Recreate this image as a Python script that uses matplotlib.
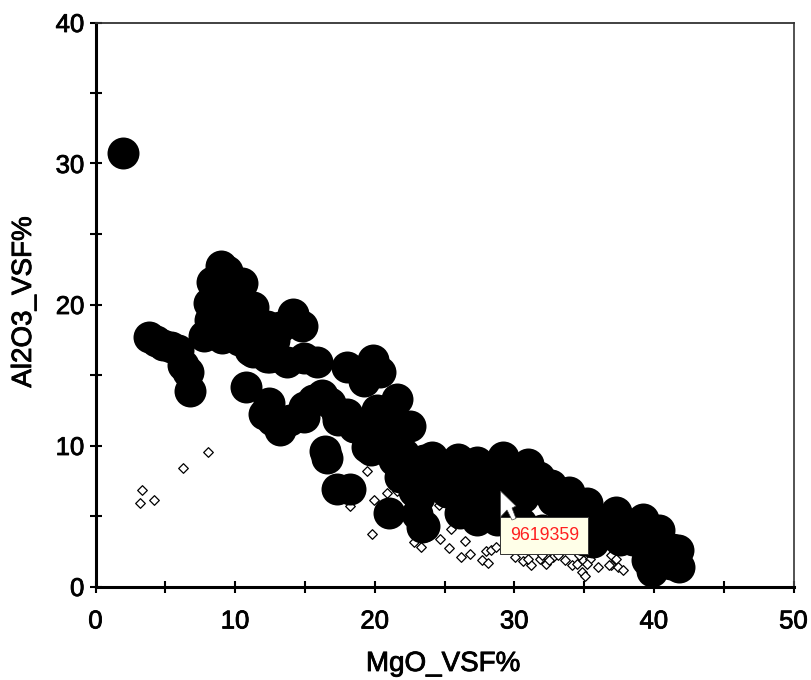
import matplotlib
matplotlib.use("Agg")
import matplotlib.pyplot as plt
import matplotlib.patheffects as pe
from matplotlib.patches import Rectangle, Polygon
from matplotlib.ticker import MultipleLocator

W, H = 811, 680

large_x = [1.97, 3.8, 4.3, 4.87, 5.4, 5.94, 6.3, 6.6, 6.8,
           9.0, 8.35, 10.5, 8.1, 7.75, 9.07, 11.1, 14.15, 14.8, 13.7, 15.9, 18.0, 19.9, 20.4, 21.6, 22.55, 21.7,
           9.9, 11.6, 9.2, 10.4, 12.8, 12.3, 19.2, 20.2, 21.1, 19.7,
           8.7, 10.1, 11.3, 12.3, 13.25, 11.6, 9.9, 8.2, 10.25, 11.3, 12.5, 14.9, 9.66, 9.4, 19.0,
           10.8, 12.4, 12.65, 13.2, 14.9, 16.2, 17.3, 18.5, 19.45, 16.45, 16.6, 17.3, 18.2, 21.05, 23.5,
           12.05, 13.95, 15.6, 14.9, 16.8, 18.0, 19.45, 17.4, 19.7, 20.9, 22.1, 21.1, 20.15, 22.3, 23.5,
           21.35, 24.1, 26.0, 27.3, 29.2, 31.0, 32.6, 33.9, 35.2, 37.3, 39.25, 40.4, 41.75, 41.8, 39.85, 39.5,
           37.6, 35.67, 34.2, 23.4, 26.1, 27.3, 25.2, 22.8, 28.75, 32.3, 33.5, 35.0,
           21.8, 23.2, 24.6, 26.0, 27.5, 29.0, 30.4, 31.8,
           23.2, 26.4, 27.55, 29.0, 30.65, 32.8, 34.2, 35.7, 37.1, 38.8, 40.7, 40.2, 38.5, 39.5, 41.2, 41.3,
           23.0, 29.5, 36.4, 30.5, 32.0]
large_y = [30.75, 17.7, 17.4, 17.1, 17.0, 16.8, 15.7, 15.2, 13.9,
           22.7, 21.6, 21.5, 20.1, 17.8, 17.6, 16.8, 19.3, 18.5, 15.9, 15.9, 15.6, 16.05, 15.2, 13.3, 11.4, 8.95,
           19.8, 18.4, 19.1, 18.0, 17.5, 16.3, 14.6, 12.5, 11.3, 11.1,
           20.3, 20.3, 19.8, 18.5, 18.4, 17.5, 18.65, 18.9, 17.5, 16.65, 16.3, 16.2, 21.5, 22.4, 15.3,
           14.15, 13.0, 11.8, 11.1, 12.0, 13.6, 12.3, 11.3, 9.9, 9.6, 9.1, 6.9, 6.9, 5.2, 4.3,
           12.25, 11.8, 13.2, 12.7, 13.0, 12.25, 11.3, 11.8, 9.65, 9.65, 9.4, 12.0, 10.6, 8.0, 8.95,
           8.95, 9.2, 9.07, 8.8, 9.2, 8.7, 7.2, 6.7, 5.9, 5.3, 4.8, 4.0, 2.6, 1.4, 1.1, 2.8,
           3.3, 3.15, 4.45, 4.2, 5.2, 4.7, 6.7, 6.8, 4.7, 6.8, 5.2, 3.27,
           7.77, 7.77, 7.77, 7.77, 7.77, 7.77, 7.77, 7.77,
           6.35, 6.45, 6.35, 6.35, 6.35, 6.1, 5.15, 4.7, 4.2, 4.0, 2.56, 3.7, 3.3, 1.85, 1.6, 2.68,
           5.16, 4.9, 3.74, 4.5, 4.0]

small_x = [3.34, 3.22, 4.17, 6.25, 8.04, 19.45, 19.92, 19.8, 18.25, 20.9, 21.6, 24.6, 25.5, 22.8, 23.3, 24.65,
           25.3, 26.5, 26.2, 26.85, 27.7, 28.15, 28.0, 28.3, 28.7, 29.95, 30.05, 30.65, 31.2, 31.0, 31.85, 32.3,
           32.8, 33.6, 34.1, 34.5, 34.85, 35.1, 34.95, 35.4, 36.0, 36.9, 36.9, 37.3, 37.4, 37.8, 36.75,
           32.0, 32.5, 33.1, 34.6, 35.2]
small_y = [6.87, 5.92, 6.16, 8.43, 9.52, 8.19, 6.16, 3.74, 5.68, 6.65, 6.8, 5.75, 4.1, 3.15, 2.8, 3.4,
           2.7, 3.2, 2.1, 2.3, 1.85, 1.7, 2.55, 2.6, 2.8, 4.74, 2.1, 1.8, 1.55, 1.97, 1.97, 1.6,
           2.1, 1.9, 1.55, 1.6, 1.0, 0.74, 1.85, 1.97, 1.4, 2.2, 1.56, 1.97, 1.4, 1.2, 1.56,
           2.2, 1.9, 2.2, 2.2, 1.6]

x_ticks = [0, 10, 20, 30, 40, 50]
y_ticks = [0, 10, 20, 30, 40]
x_label = "MgO_VSF%"
y_label = "Al2O3_VSF%"
tooltip = "9619359"

plt.rcParams['font.family'] = ['Liberation Sans', 'DejaVu Sans']

fig = plt.figure(figsize=(W / 100, H / 100), dpi=100, facecolor="white")
L, R, T, B = 95.5, 793.5, 22.5, 586.5
ax = fig.add_axes([L / W, 1 - B / H, (R - L) / W, (B - T) / H])
ax.set_xlim(0, 50)
ax.set_ylim(0, 40)

ax.scatter(small_x, small_y, marker="D", s=24, facecolor="white", edgecolor="black",
           linewidth=0.9, zorder=2, clip_on=False)
ax.scatter(large_x, large_y, marker="o", s=530, color="black", linewidth=0, zorder=3, clip_on=False)

ax.set_xticks(x_ticks)
ax.set_yticks(y_ticks)
ax.xaxis.set_minor_locator(MultipleLocator(5))
ax.yaxis.set_minor_locator(MultipleLocator(5))
ax.tick_params(axis="x", which="both", direction="inout", length=8, width=1.5, top=False,
               labelsize=18.5, pad=12.5)
ax.tick_params(axis="y", which="both", direction="inout", length=8, width=1.5, right=False,
               labelsize=18.5, pad=4)
for side, lw, col in [("left", 2.2, "black"), ("bottom", 2.2, "black"),
                      ("top", 1.3, "#333333"), ("right", 1.3, "#444444")]:
    ax.spines[side].set_linewidth(lw)
    ax.spines[side].set_color(col)
    ax.spines[side].set_zorder(4)

heavy = [pe.withStroke(linewidth=0.6, foreground="black")]
for lab in ax.get_xticklabels() + ax.get_yticklabels():
    lab.set_path_effects(heavy)

fig.text(443 / W, 1 - 664 / H, x_label, fontsize=20, ha="center", va="center", path_effects=heavy)
fig.text(24 / W, 1 - 302 / H, y_label, fontsize=20, rotation=90, ha="center", va="center", path_effects=heavy)


def px(x, y):
    return (x / W, 1 - y / H)


# tooltip box and mouse pointer
fig.add_artist(Rectangle(px(500, 554), 88 / W, 37 / H, transform=fig.transFigure,
                         facecolor="#ffffe8", edgecolor="#333333", linewidth=0.7, zorder=6))
fig.text(*px(545, 536), tooltip, color="#ff2020", fontsize=12.8, ha="center", va="center", zorder=7)
cursor_pts = [px(*p) for p in [(500.5, 491), (500.5, 517), (507, 510), (512, 520), (516, 518.5),
                               (512, 508), (516, 506)]]
fig.add_artist(Polygon(cursor_pts, closed=True, transform=fig.transFigure, facecolor="white",
                       edgecolor="#444444", linewidth=0.5, zorder=8))

fig.savefig("out.png", dpi=100, facecolor="white")
